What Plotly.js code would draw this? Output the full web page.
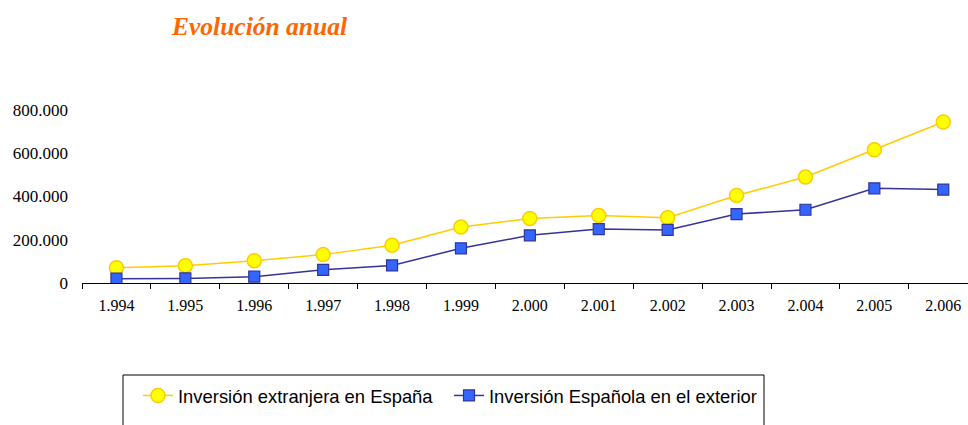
<!DOCTYPE html>
<html>
<head>
<meta charset="utf-8">
<script src="https://cdn.plot.ly/plotly-3.0.1.min.js"></script>
<style>html,body{margin:0;padding:0;background:#fff;}#chart{width:968px;height:425px;}</style>
</head>
<body>
<div id="chart"></div>
<script>
const years = ["1.994","1.995","1.996","1.997","1.998","1.999","2.000","2.001","2.002","2.003","2.004","2.005","2.006"];
const inversionExtranjera = [70000, 80000, 103000, 131000, 174000, 258000, 298000, 312000, 301000, 404000, 489000, 615000, 743000];
const inversionEspanola = [20000, 21000, 29000, 61000, 81000, 160000, 220000, 249000, 245000, 318000, 338000, 437000, 431000];
const seriesNames = ["Inversión extranjera en España", "Inversión Española en el exterior"];
const yTicks = [0, 200000, 400000, 600000, 800000];

const traces = [
  {
    x: years, y: inversionExtranjera, name: seriesNames[0], type: 'scatter', mode: 'lines+markers',
    line: {color: '#FFCC00', width: 1.5},
    marker: {symbol: 'circle', size: 14, color: '#FFFF00', line: {color: '#FFCC00', width: 1.5}}
  },
  {
    x: years, y: inversionEspanola, name: seriesNames[1], type: 'scatter', mode: 'lines+markers',
    line: {color: '#333399', width: 1.5},
    marker: {symbol: 'square', size: 11, color: '#3366FF', line: {color: '#333399', width: 1.2}}
  }
];

const plotL = 82, plotR = 968, plotT = 88, plotB = 283;
const pw = plotR - plotL, ph = plotB - plotT;
function px(x){ return (x - plotL) / pw; }
function py(y){ return (plotB - y) / ph; }

const layout = {
  width: 968, height: 425,
  margin: {l: plotL, r: 968 - plotR, t: plotT, b: 425 - plotB, pad: 0},
  paper_bgcolor: '#fff', plot_bgcolor: '#fff',
  separators: ',.',
  showlegend: true,
  title: {
    text: '<b><i>Evolución anual</i></b>',
    font: {family: 'Liberation Serif, Times New Roman, serif', size: 25.5, color: '#FF6600'},
    xref: 'container', yref: 'container', x: 259.5/968, xanchor: 'center', y: 1 - 26/425, yanchor: 'middle'
  },
  xaxis: {
    type: 'category', range: [-0.5, -0.5 + pw/68.9],
    showline: true, linecolor: '#000', linewidth: 1,
    ticks: 'outside', tickson: 'boundaries', ticklen: 5, tickcolor: '#000', tickwidth: 1,
    ticklabelstandoff: 8,
    showgrid: false, zeroline: false,
    tickfont: {family: 'Liberation Serif, Times New Roman, serif', size: 16, color: '#000'},
    fixedrange: true
  },
  yaxis: {
    range: [0, 900000], tickvals: yTicks, tickformat: ',d',
    showline: false, ticks: '', showgrid: false, zeroline: false,
    ticklabelstandoff: 13,
    tickfont: {family: 'Liberation Serif, Times New Roman, serif', size: 17, color: '#000'},
    fixedrange: true
  },
  legend: {
    orientation: 'h', x: px(138), xanchor: 'left', y: py(377), yanchor: 'top',
    bgcolor: 'rgba(0,0,0,0)', borderwidth: 0,
    font: {family: 'Liberation Sans, Arial, sans-serif', size: 18.4, color: '#000'},
    itemsizing: 'trace', tracegroupgap: 0, entrywidth: 266, entrywidthmode: 'pixels'
  },
  shapes: [{
    type: 'rect', xref: 'paper', yref: 'paper',
    x0: px(123), x1: px(764), y0: py(375), y1: py(440),
    line: {color: '#000', width: 1}, fillcolor: 'rgba(0,0,0,0)'
  }]
};

Plotly.newPlot('chart', traces, layout, {displayModeBar: false, staticPlot: true});
</script>
</body>
</html>
